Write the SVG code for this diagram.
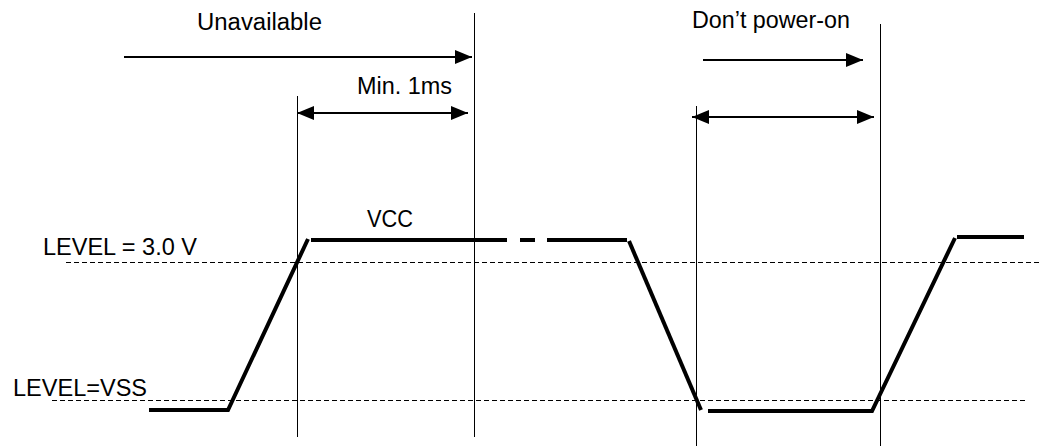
<svg xmlns="http://www.w3.org/2000/svg" width="1040" height="446" viewBox="0 0 1040 446">
  <style>
    .txt { font-family: "Liberation Sans", Arial, sans-serif; font-size: 23px; fill: #000; }
    .guide { stroke: #000; stroke-width: 1; fill: none; }
    .level { stroke: #000; stroke-width: 1; stroke-dasharray: 5 3; fill: none; }
    .wave { stroke: #000; stroke-width: 4; fill: none; stroke-linecap: butt; stroke-linejoin: miter; }
    .arrow { stroke: #000; stroke-width: 2; fill: none; }
  </style>
  <defs>
    <marker id="head" markerUnits="userSpaceOnUse" markerWidth="18" markerHeight="14" refX="17" refY="7" orient="auto-start-reverse">
      <path d="M0,0 L17,7 L0,14 Z" fill="#000"/>
    </marker>
  </defs>
  <rect width="1040" height="446" fill="#fff"/>

  <g id="levels">
    <line class="level" x1="66" y1="262.5" x2="1040" y2="262.5"/>
    <line class="level" x1="52" y1="400.5" x2="1028" y2="400.5"/>
  </g>

  <g id="guides">
    <line class="guide" x1="297.5" y1="96" x2="297.5" y2="437"/>
    <line class="guide" x1="474.5" y1="13" x2="474.5" y2="437"/>
    <line class="guide" x1="696.5" y1="106" x2="696.5" y2="446"/>
    <line class="guide" x1="880.5" y1="24" x2="880.5" y2="446"/>
  </g>

  <g id="waveform">
    <polyline class="wave" points="149,410 228,410 308,239"/>
    <line class="wave" x1="311" y1="240" x2="507" y2="240"/>
    <line class="wave" x1="520" y1="240" x2="535" y2="240"/>
    <line class="wave" x1="547" y1="240" x2="627" y2="240"/>
    <line class="wave" x1="629" y1="241" x2="701" y2="410"/>
    <polyline class="wave" points="708,411 872,411 955,238"/>
    <line class="wave" x1="957" y1="237" x2="1024" y2="237"/>
  </g>

  <g id="connectors">
    <line class="arrow" x1="124" y1="57" x2="472" y2="57" marker-end="url(#head)"/>
    <line class="arrow" x1="297" y1="113" x2="468" y2="113" marker-start="url(#head)" marker-end="url(#head)"/>
    <line class="arrow" x1="703" y1="60" x2="863" y2="60" marker-end="url(#head)"/>
    <line class="arrow" x1="692" y1="117" x2="874" y2="117" marker-start="url(#head)" marker-end="url(#head)"/>
  </g>

  <g id="labels">
    <text class="txt" x="197" y="30" textLength="125" lengthAdjust="spacingAndGlyphs">Unavailable</text>
    <text class="txt" x="357" y="94" textLength="95" lengthAdjust="spacingAndGlyphs">Min. 1ms</text>
    <text class="txt" x="692" y="28" textLength="158" lengthAdjust="spacingAndGlyphs">Don’t power-on</text>
    <text class="txt" x="367" y="227" textLength="46" lengthAdjust="spacingAndGlyphs">VCC</text>
    <text class="txt" x="43" y="255" textLength="154" lengthAdjust="spacingAndGlyphs">LEVEL = 3.0 V</text>
    <text class="txt" x="13" y="396" textLength="134" lengthAdjust="spacingAndGlyphs">LEVEL=VSS</text>
  </g>
</svg>
